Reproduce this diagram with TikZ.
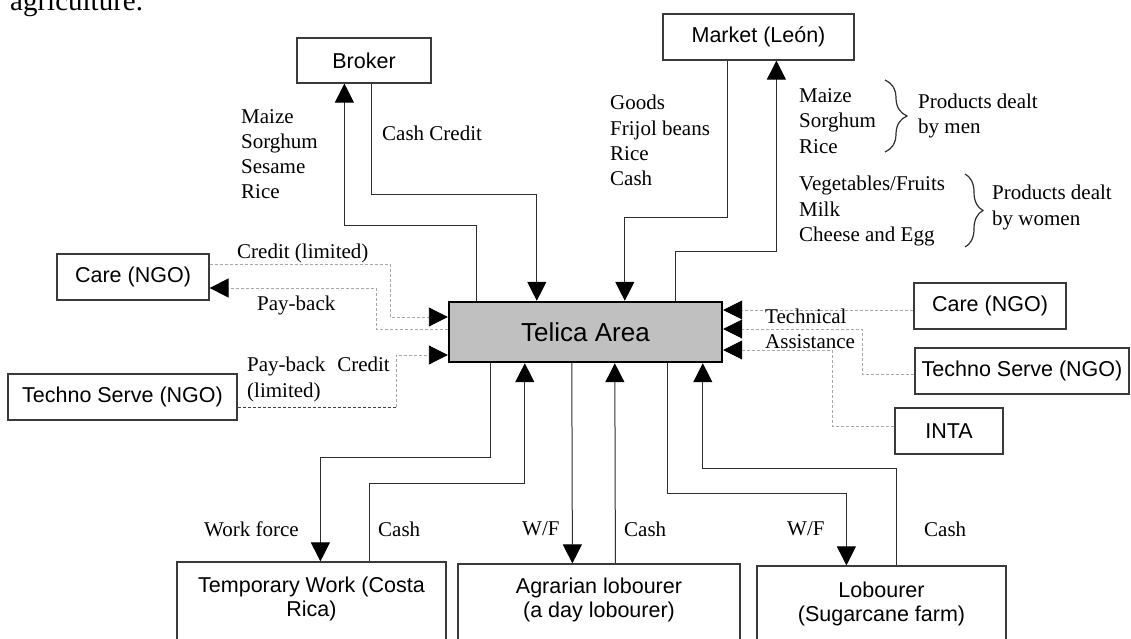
\documentclass[tikz,border=0pt]{standalone}
\usepackage{fontspec}
\setmainfont{Liberation Serif}
\newfontfamily\arialfont{Liberation Sans}
\usetikzlibrary{arrows.meta,calc,decorations.pathreplacing}

\definecolor{boxgrey}{HTML}{3A3A3A}
\definecolor{linegrey}{HTML}{2E2E2E}
\definecolor{dashgrey}{HTML}{A8A8A8}
\definecolor{telfill}{HTML}{C0C0C0}

\begin{document}
\begin{tikzpicture}[x=1pt,y=-1pt,
  box/.style={draw=boxgrey, line width=1.2pt, fill=white, inner sep=0pt,
    font=\arialfont\fontsize{21.5}{24.5}\selectfont, align=center},
  boxtext/.style={inner sep=0pt, anchor=north, align=center,
    font=\arialfont\fontsize{21.5}{24.5}\selectfont},
  lbl/.style={inner sep=0pt, anchor=west, align=left,
    font=\fontsize{21}{25.2}\selectfont},
  tip/.style={-{Triangle[length=19pt,width=19pt,color=black,fill=black]}},
  flow/.style={draw=linegrey, line width=1pt, tip},
  aid/.style={draw=dashgrey, line width=0.9pt, dash pattern=on 3pt off 2pt, tip},
  aidlead/.style={draw=black!75, line width=0.9pt, dash pattern=on 3pt off 2pt},
  bracket/.style={draw=linegrey, line width=1.2pt,
    decorate, decoration={brace, amplitude=#1}}
]
\useasboundingbox (0,0) rectangle (1131,639);
\clip (0,0) rectangle (1131,639);

% tail of the running text above the chart
\node[anchor=base west, inner sep=0pt, font=\fontsize{29}{34}\selectfont] (cap) at (10,11) {agriculture.};

% central area
\node[box, draw=black, line width=2.4pt, fill=telfill, minimum width=273pt, minimum height=60pt,
      font=\arialfont\fontsize{26}{30}\selectfont] (tel) at (585.5,332) {Telica Area};

% partners
\node[box, minimum width=134pt, minimum height=45pt] (bro) at (364,60.5) {Broker};
\node[box, minimum width=191pt, minimum height=46pt] (mkt) at (758.5,37) {Market (León)};
\node[box, minimum width=152pt, minimum height=46pt] (careL) at (133,277) {Care (NGO)};
\node[box, minimum width=229pt, minimum height=46pt] (techL) at (122.5,397) {Techno Serve (NGO)};
\node[box, minimum width=152pt, minimum height=46pt] (careR) at (990,306) {Care (NGO)};
\node[box, minimum width=214pt, minimum height=46pt] (techR) at (1022,371) {Techno Serve (NGO)};
\node[box, minimum width=108pt, minimum height=46pt] (inta) at (949,431) {INTA};

% work destinations (boxes run past the lower edge)
\node[box, minimum width=269pt, minimum height=100pt] (temp) at (311.5,612) {};
\node[box, minimum width=282pt, minimum height=100pt] (agr) at (599,614) {};
\node[box, minimum width=249pt, minimum height=100pt] (lob) at (881.5,616) {};
\node[boxtext] (tempT) at ($(temp.north)+(0,15)$) {Temporary Work (Costa\\Rica)};
\node[boxtext] (agrT) at ($(agr.north)+(0,14)$) {Agrarian lobourer\\(a day lobourer)};
\node[boxtext] (lobT) at ($(lob.north)+(0,16)$) {Lobourer\\(Sugarcane farm)};

% trade with broker and market
\draw[flow] ($(tel.north west)+(29,0)$) -- ++(0,-75) -| ($(bro.south west)+(48,0)$);
\draw[flow] ($(bro.south west)+(75,0)$) -- ++(0,111) -| ($(tel.north west)+(89,0)$);
\draw[flow] ($(mkt.south west)+(65,0)$) -- ++(0,157) -| ($(tel.north west)+(177,0)$);
\draw[flow] ($(tel.north west)+(228,0)$) -- ++(0,-49) -| ($(mkt.south west)+(114,0)$);

% credit and pay-back
\draw[aid] ($(careL.east)+(0,-13)$) -| (390,317) -- ($(tel.west)+(0,-15)$);
\draw[aid] ($(tel.west)+(0,-3)$) -| (376,288) -- ($(careL.east)+(0,11)$);
\coordinate (tsbend) at (396,407);
\draw[aidlead] ($(techL.east)+(0,10)$) -- (tsbend);
\draw[aid] (tsbend) |- ($(tel.west)+(0,23)$);

% technical assistance
\draw[aid] ($(careR.west)+(0,4)$) -- ($(tel.east)+(0,-22)$);
\draw[aid] ($(techR.west)+(0,3)$) -| (862,329) -- ($(tel.east)+(0,-3)$);
\draw[aid] ($(inta.west)+(0,-5)$) -| (832,350) -- ($(tel.east)+(0,18)$);

% labour and cash
\draw[flow] ($(tel.south west)+(43,0)$) -- ++(0,94) -| ($(temp.north west)+(144,0)$);
\draw[flow] ($(temp.north west)+(193,0)$) -- ++(0,-78) -| ($(tel.south west)+(77,0)$);
\draw[flow] ($(tel.south west)+(124,0)$) -- ($(agr.north west)+(115,0)$);
\draw[flow] ($(agr.north west)+(158,0)$) -- ($(tel.south west)+(167,0)$);
\draw[flow] ($(tel.south west)+(220,0)$) -- ++(0,130) -| ($(lob.north west)+(90,0)$);
\draw[flow] ($(lob.north west)+(140,0)$) -- ++(0,-97) -| ($(tel.south west)+(255,0)$);

% labels
\node[lbl] (lMaize) at (241,154) {Maize\\Sorghum\\Sesame\\Rice};
\node[lbl] (lCashCr) at (382,133) {Cash Credit};
\node[lbl] (lGoods) at (610,140.5) {Goods\\Frijol beans\\Rice\\Cash};
\node[lbl] (lMen) at (799,121) {Maize\\Sorghum\\Rice};
\node[lbl] (lMenT) at (918,116) {Products dealt\\by men};
\node[lbl] (lWomen) at (799,211) {Vegetables/Fruits\\Milk\\Cheese and Egg};
\node[lbl] (lWomenT) at (992,207.5) {Products dealt\\by women};
\node[lbl] (lTech) at (765,329) {Technical\\Assistance};
\node[lbl] (lCred) at (237,253) {Credit (limited)};
\node[lbl] (lPay) at (257,305) {Pay-back};
\node[lbl] (lPayCred) at (247,379.5) {Pay-back\hspace{12pt}Credit\\(limited)};
\node[lbl] (lWork) at (204,529) {Work force};
\node[lbl] (lCash1) at (378,529) {Cash};
\node[lbl] (lWF1) at (522,529) {W/F};
\node[lbl] (lCash2) at (624,529) {Cash};
\node[lbl] (lWF2) at (787,529) {W/F};
\node[lbl] (lCash3) at (924,529) {Cash};

% product groups
\draw[bracket=22pt] (885,80) -- (885,152);
\draw[bracket=18pt] (965,174) -- (965,247);
\end{tikzpicture}
\end{document}
